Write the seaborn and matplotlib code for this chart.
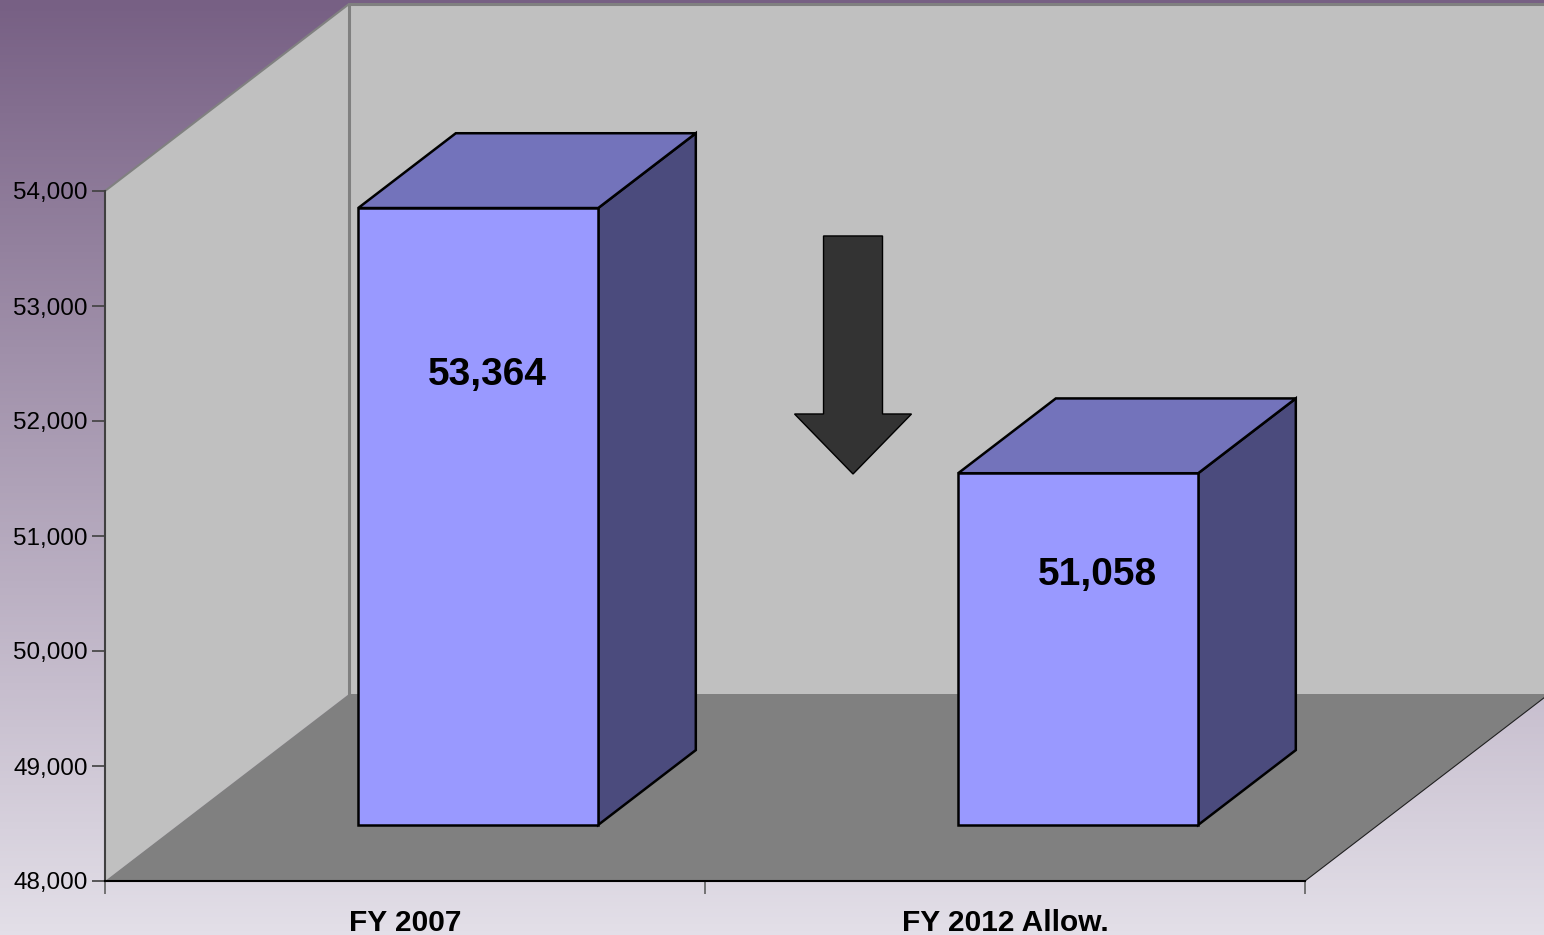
import numpy as np
import matplotlib
matplotlib.use("Agg")
import matplotlib.pyplot as plt
import seaborn as sns
from matplotlib.patches import Polygon, FancyArrow
from matplotlib.ticker import FuncFormatter, FixedLocator

# data
categories = ["FY 2007", "FY 2012 Allow."]
employees = [53364, 51058]
y_ticks = [48000, 49000, 50000, 51000, 52000, 53000, 54000]

BASE = 48000
TOP = 54000

sns.set_theme(style="white")
plt.rcParams["font.family"] = ["Liberation Sans", "DejaVu Sans"]

W, H = 1544, 935
fig = plt.figure(figsize=(W / 100, H / 100), dpi=100)

# purple -> lavender background gradient
bg = fig.add_axes([0, 0, 1, 1], zorder=-5)
grad = np.linspace(0, 1, 256)[:, None, None]
top_c = np.array([0x77, 0x60, 0x84]) / 255
bot_c = np.array([0xe3, 0xdf, 0xe8]) / 255
bg.imshow(top_c + (bot_c - top_c) * grad, aspect="auto", extent=[0, 1, 0, 1])
bg.axis("off")

# front plane of the 3d box
ax_w, ax_h = 1200, 690
ax = fig.add_axes([105 / W, 54 / H, ax_w / W, ax_h / H])
ax.patch.set_alpha(0)

# depth of the box, converted from pixels to data units
DX = 244 / (ax_w / 2)
DY = 187 * (TOP - BASE) / ax_h
F, B = 0.3, 0.4   # bar front position and bar depth (fraction of box depth)

wall = "#c0c0c0"
floor = "#808080"
kw = dict(clip_on=False, lw=0)
ax.add_patch(Polygon([(-0.5 + DX, BASE + DY), (3, BASE + DY), (3, TOP + DY), (-0.5 + DX, TOP + DY)],
                     fc=wall, zorder=0.5, **kw))
ax.add_patch(Polygon([(-0.5, BASE), (-0.5, TOP), (-0.5 + DX, TOP + DY), (-0.5 + DX, BASE + DY)],
                     fc=wall, zorder=0.5, **kw))
ax.add_patch(Polygon([(-0.5, BASE), (1.5, BASE), (1.5 + DX, BASE + DY), (-0.5 + DX, BASE + DY)],
                     fc=floor, zorder=0.6, **kw))
ax.plot([-0.5 + DX, -0.5 + DX, 3], [BASE + DY, TOP + DY, TOP + DY], color="#808080", lw=2.2,
        clip_on=False, zorder=0.7)
ax.plot([-0.5, -0.5 + DX], [TOP, TOP + DY], color="#808080", lw=1.5, clip_on=False, zorder=0.7)
ax.plot([1.5, 1.5 + DX], [BASE, BASE + DY], color="#202020", lw=0.8, clip_on=False, zorder=0.7)

sns.barplot(x=categories, y=employees, width=0.4, color="#9999ff", saturation=1,
            edgecolor="black", linewidth=1.8, ax=ax, zorder=3)

# where the value labels sit inside each bar (x shift, fraction of height)
label_dx = [0.016, 0.032]
label_frac = [0.73, 0.71]

for i, (p, v) in enumerate(zip(ax.patches[3:], employees)):
    x0, w = p.get_x(), p.get_width()
    fx0 = x0 + F * DX
    fx1 = fx0 + w
    fy0 = BASE + F * DY
    fy1 = v + F * DY
    p.set_x(fx0)
    p.set_y(fy0)
    p.set_height(v - BASE)
    p.set_clip_on(False)
    bx, by = B * DX, B * DY
    ax.add_patch(Polygon([(fx1, fy0), (fx1 + bx, fy0 + by), (fx1 + bx, fy1 + by), (fx1, fy1)],
                         fc="#4b4b7d", ec="black", lw=1.8, zorder=2.9, clip_on=False, joinstyle="miter"))
    ax.add_patch(Polygon([(fx0, fy1), (fx1, fy1), (fx1 + bx, fy1 + by), (fx0 + bx, fy1 + by)],
                         fc="#7373bb", ec="black", lw=1.8, zorder=2.9, clip_on=False, joinstyle="miter"))
    ax.text(fx0 + w / 2 + label_dx[i], fy0 + label_frac[i] * (v - BASE), f"{v:,}",
            ha="center", va="center", fontsize=28, fontweight="bold", color="black", zorder=5)

# down arrow between the bars
ax.add_patch(FancyArrow(0.7467, 53609, 0, 51539 - 53609, width=0.0983, head_width=0.195,
                        head_length=522, length_includes_head=True, fc="#333333", ec="black",
                        lw=1, zorder=4))

ax.set_xlim(-0.5, 1.5)
ax.set_ylim(BASE, TOP)
ax.set_xlabel("")
ax.set_ylabel("")
ax.yaxis.set_major_locator(FixedLocator(y_ticks))
ax.yaxis.set_major_formatter(FuncFormatter(lambda v, _: f"{int(v):,}"))
ax.xaxis.set_minor_locator(FixedLocator([-0.5, 0.5, 1.5]))
ax.tick_params(axis="y", which="major", direction="out", length=9.5, width=1.2, color="#404040",
               labelsize=17.5, labelcolor="black", pad=3, left=True)
ax.tick_params(axis="x", which="major", length=0, labelsize=21.5, labelcolor="black", pad=20)
ax.tick_params(axis="x", which="minor", direction="out", length=9.5, width=1.2, color="#606060",
               bottom=True)
for lab in ax.get_xticklabels():
    lab.set_fontweight("bold")
for s in ["top", "right"]:
    ax.spines[s].set_visible(False)
ax.spines["left"].set_color("#404040")
ax.spines["left"].set_linewidth(1.5)
ax.spines["bottom"].set_color("black")
ax.spines["bottom"].set_linewidth(1.5)
ax.grid(False)

fig.savefig("out.png", dpi=100)
